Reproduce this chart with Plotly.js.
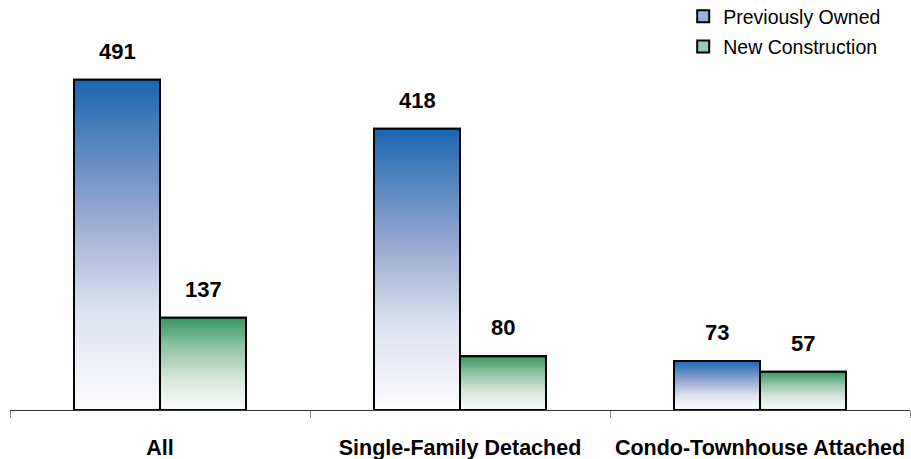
<!DOCTYPE html>
<html>
<head>
<meta charset="utf-8">
<script src="https://cdn.plot.ly/plotly-3.0.1.min.js"></script>
<style>html,body{margin:0;padding:0;background:#fff;}#chart{width:911px;height:459px;}</style>
</head>
<body>
<div id="chart"></div>
<script>
// ---- data ----
var categories = ['All', 'Single-Family Detached', 'Condo-Townhouse Attached'];
var previouslyOwned = [491, 418, 73];
var newConstruction = [137, 80, 57];
var seriesNames = ['Previously Owned', 'New Construction'];

// ---- styles ----
var BARGAP = 0.4267;
var W = (1 - BARGAP) / 2;
var blueScale = [[0, '#fcfcfe'], [0.3, '#dde2ee'], [0.6, '#94a7cf'], [1, '#1b66b1']];
var greenScale = [[0, '#fbfcfb'], [0.35, '#d6e6da'], [0.7, '#8cc2a0'], [1, '#359662']];

var traces = [
  {type: 'bar', name: seriesNames[0], x: categories, y: previouslyOwned, legendgroup: 'a',
   marker: {color: '#9fb0d6', line: {color: '#000', width: 2}}, hoverinfo: 'skip'},
  {type: 'bar', name: seriesNames[1], x: categories, y: newConstruction, legendgroup: 'b',
   marker: {color: '#9ccab0', line: {color: '#000', width: 2}}, hoverinfo: 'skip'}
];

var annotations = [];
function addGradientBars(values, offset, scale) {
  values.forEach(function (v, i) {
    var x0 = i + offset, x1 = i + offset + W;
    traces.push({
      type: 'scatter', xaxis: 'x2', yaxis: 'y', mode: 'lines', showlegend: false, hoverinfo: 'skip',
      x: [x0, x0, x1, x1, x0], y: [0, v, v, 0, 0],
      fill: 'toself', line: {color: '#000', width: 2},
      fillgradient: {type: 'vertical', colorscale: scale}
    });
    annotations.push({
      xref: 'x2', yref: 'y', x: (x0 + x1) / 2, y: v, text: String(v), showarrow: false,
      yanchor: 'bottom', yshift: 14,
      font: {family: 'Arial, Liberation Sans, sans-serif', size: 22, weight: 'bold', color: '#000'}
    });
  });
}
addGradientBars(previouslyOwned, -W, blueScale);
addGradientBars(newConstruction, 0, greenScale);

var layout = {
  width: 911, height: 459,
  margin: {l: 10, r: 1, t: 40, b: 49, autoexpand: false},
  paper_bgcolor: '#fff', plot_bgcolor: '#fff',
  barmode: 'group', bargap: BARGAP, bargroupgap: 0,
  showlegend: true,
  legend: {x: 0.748, xanchor: 'left', y: 1.116, yanchor: 'top', traceorder: 'grouped', tracegroupgap: 2,
           font: {family: 'Arial, Liberation Sans, sans-serif', size: 19.5, color: '#000'}, bgcolor: 'rgba(0,0,0,0)'},
  xaxis: {type: 'category', tickson: 'boundaries', ticks: 'outside', ticklen: 7, tickcolor: '#888', tickwidth: 1,
          showline: true, linecolor: '#333', linewidth: 1, showgrid: false, zeroline: false,
          tickangle: 0, automargin: false, ticklabelstandoff: 18,
          tickfont: {family: 'Arial, Liberation Sans, sans-serif', size: 21.5, weight: 'bold', color: '#000'}},
  xaxis2: {overlaying: 'x', range: [-0.5, 2.5], visible: false, showgrid: false, zeroline: false},
  yaxis: {range: [0, 550], visible: false, showgrid: false, zeroline: false},
  annotations: annotations
};

Plotly.newPlot('chart', traces, layout, {staticPlot: true, displayModeBar: false});
</script>
</body>
</html>
